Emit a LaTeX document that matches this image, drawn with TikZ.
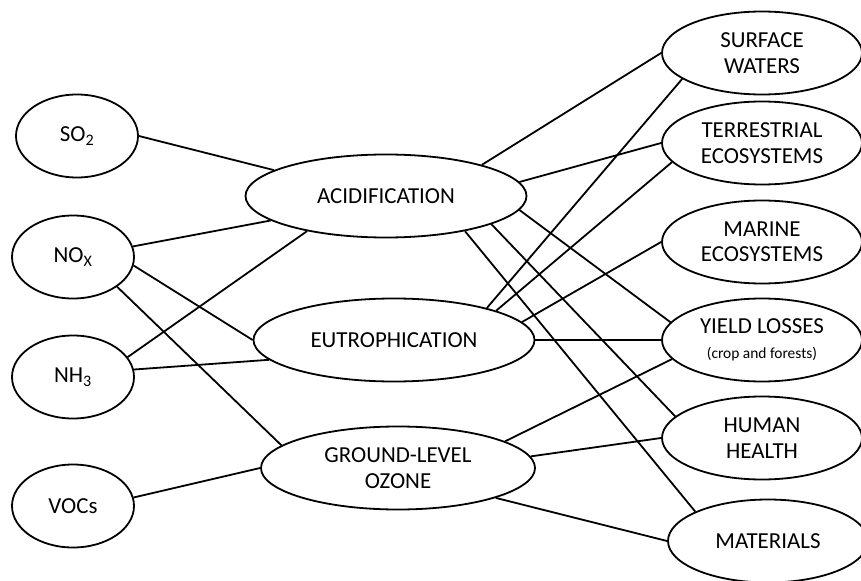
\documentclass[tikz,border=0pt]{standalone}
\usepackage{fontspec}
\setmainfont{Carlito}
\usetikzlibrary{shapes.geometric}

\begin{document}
\begin{tikzpicture}[x=1bp, y=-1bp,
  blob/.style={draw, ellipse, line width=1.8bp, inner sep=0pt, align=center,
    minimum height=83bp, font=\fontsize{23}{25.5}\selectfont},
  source/.style={blob, minimum width=122bp},
  effect/.style={blob, minimum width=281bp},
  impact/.style={blob, minimum width=200bp},
  link/.style={line width=1.8bp}]
\useasboundingbox (0,0) rectangle (861,581);

\node[source] at (77,136) (so2) {SO\textsubscript{2}};
\node[source] at (73,257) (nox) {NO\textsubscript{X}};
\node[source] at (73,377) (nh3) {NH\textsubscript{3}};
\node[source] at (73,506) (vocs) {VOCs};

\node[effect] at (386,196) (acid) {ACIDIFICATION};
\node[effect] at (394,340) (eutro) {EUTROPHICATION};
\node[effect, minimum width=274bp] at (398,468) (ozone) {GROUND-LEVEL\\OZONE};

\node[impact] at (762,53) (surf) {SURFACE\\WATERS};
\node[impact] at (762,143) (terr) {TERRESTRIAL\\ECOSYSTEMS};
\node[impact] at (762,242) (marine) {MARINE\\ECOSYSTEMS};
\node[impact] at (762,340) (yield) {YIELD LOSSES\\{\fontsize{15.5}{19}\selectfont (crop and forests)}};
\node[impact] at (762,438) (human) {HUMAN\\HEALTH};
\node[impact] at (768,541) (mat) {MATERIALS};

%pollutants to effects
\draw[link] (so2.east) -- (acid.167);
\draw[link] (nox.10) -- (acid.192);
\draw[link] (nox.352) -- (eutro.west);
\draw[link] (nox.326) -- (ozone.169);
\draw[link] (nh3.20) -- (acid.204);
\draw[link] (nh3.7) -- (eutro.189);
\draw[link] (vocs.8) -- (ozone.west);

%effects to impacts
\draw[link] (acid.18) -- (surf.west);
\draw[link] (acid.6) -- (terr.west);
\draw[link] (acid.354) -- (yield.169);
\draw[link] (acid.345) -- (human.166);
\draw[link] (acid.336) -- (mat.158);
\draw[link] (eutro.19) -- (surf.198);
\draw[link] (eutro.16) -- (terr.192);
\draw[link] (eutro.8) -- (marine.west);
\draw[link] (eutro.east) -- (yield.west);
\draw[link] (ozone.14) -- (yield.192);
\draw[link] (ozone.5) -- (human.west);
\draw[link] (ozone.343) -- (mat.west);

\end{tikzpicture}
\end{document}
